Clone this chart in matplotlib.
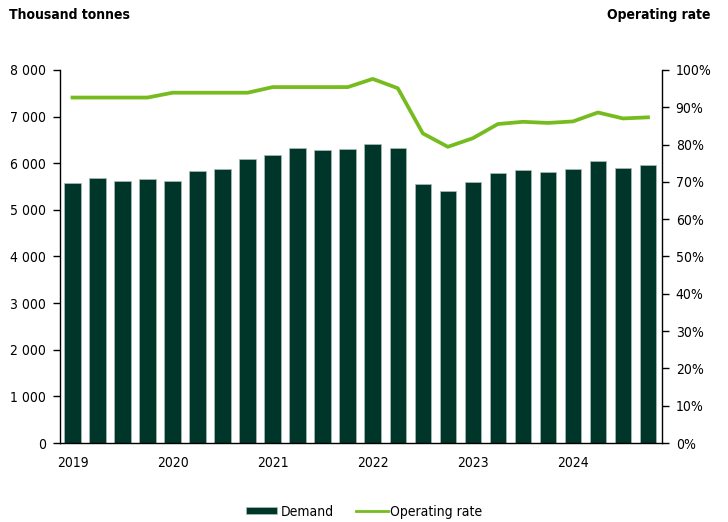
import matplotlib.pyplot as plt
from matplotlib import font_manager
from matplotlib.lines import Line2D
from matplotlib.patches import Patch
import numpy as np

# quarterly data 2019 Q1 - 2024 Q4
quarters = [f"{y} Q{q}" for y in range(2019, 2025) for q in range(1, 5)]
demand = [5572, 5679, 5628, 5657, 5628, 5836, 5879, 6100,
          6179, 6329, 6286, 6300, 6407, 6321, 5564, 5400,
          5593, 5786, 5850, 5807, 5871, 6057, 5907, 5964]
operating_rate = [92.6, 92.6, 92.6, 92.6, 93.9, 93.9, 93.9, 93.9,
                  95.4, 95.4, 95.4, 95.4, 97.6, 95.1, 83.0, 79.4,
                  81.7, 85.5, 86.1, 85.8, 86.2, 88.6, 87.0, 87.3]
year_labels = ["2019", "2020", "2021", "2022", "2023", "2024"]

bar_color = "#00352A"
line_color = "#77BC1F"

# try to find a condensed / narrow face
narrow = None
for f in font_manager.fontManager.ttflist:
    n = f.fname.lower()
    if "narrow" in n or "condensed" in n:
        if "bold" not in n and "italic" not in n and "oblique" not in n:
            narrow = f.name
            break
if narrow:
    plt.rcParams["font.family"] = [narrow, "DejaVu Sans"]
    stretch = "condensed" if "DejaVu" in narrow else "normal"
else:
    plt.rcParams["font.family"] = ["DejaVu Sans"]
    stretch = "condensed"
plt.rcParams["font.stretch"] = stretch
plt.rcParams["font.size"] = 10

fig = plt.figure(figsize=(7.28, 5.22), dpi=100)
ax = fig.add_axes([0.0824, 0.1513, 0.8266, 0.7147])
ax2 = ax.twinx()

x = np.arange(len(quarters))
ax.bar(x, demand, width=0.66, color=bar_color, edgecolor="#a9bdb5", linewidth=0.5,
       zorder=2)
ax2.plot(x, operating_rate, color=line_color, linewidth=2.7, zorder=3)

ax.set_xlim(-0.5, 23.55)
ax.set_ylim(0, 8000)
ax2.set_ylim(0, 100)

ax.set_yticks(range(0, 8001, 1000))
ax.set_yticklabels([f"{v:,}".replace(",", " ") for v in range(0, 8001, 1000)])
ax2.set_yticks(range(0, 101, 10))
ax2.set_yticklabels([f"{v}%" for v in range(0, 101, 10)])

ax.set_xticks(x[::4])
ax.set_xticklabels(year_labels)
ax.tick_params(axis="x", length=0, pad=9)
ax.tick_params(axis="y", length=5, width=1, direction="out", pad=5)
ax2.tick_params(axis="y", length=5, width=1, direction="out", pad=5)

for a in (ax, ax2):
    a.spines["top"].set_visible(False)
    for s in ("left", "right", "bottom"):
        a.spines[s].set_linewidth(1)
ax.spines["right"].set_visible(False)
ax2.spines["left"].set_visible(False)
ax2.spines["bottom"].set_visible(False)

fig.text(0.012, 0.972, "Thousand tonnes", fontweight="bold", fontsize=10, va="center", ha="left")
fig.text(0.976, 0.972, "Operating rate", fontweight="bold", fontsize=10, va="center", ha="right")

handles = [Patch(facecolor=bar_color, edgecolor="#a9bdb5", linewidth=0.5),
           Line2D([0], [0], color=line_color, linewidth=2)]
fig.legend(handles, ["Demand", "Operating rate"], loc="center", bbox_to_anchor=(0.5, 0.02),
           ncol=2, frameon=False, handlelength=2.3, handleheight=0.45, handletextpad=0.2,
           columnspacing=1.6, fontsize=10)

fig.savefig("out.png", dpi=100)
